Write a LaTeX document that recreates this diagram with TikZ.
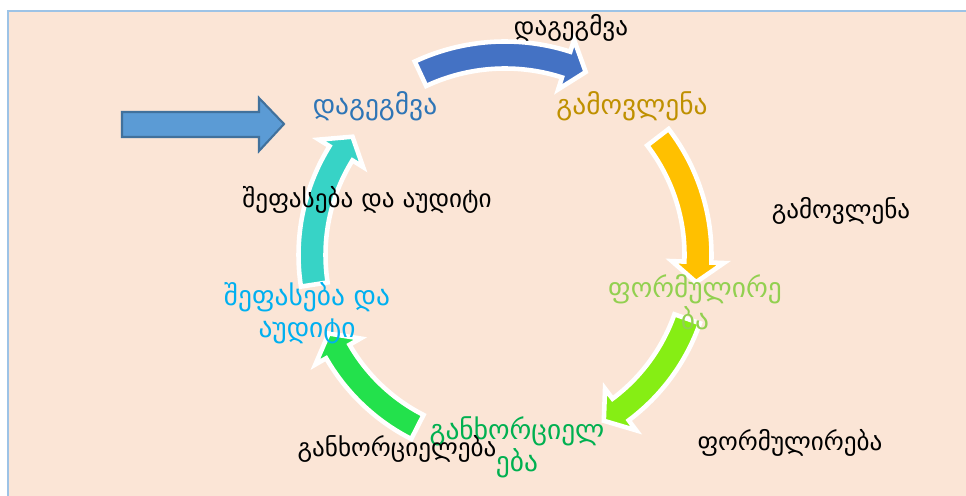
\documentclass[tikz,border=0pt]{standalone}
\usepackage{fontspec}
\setmainfont{DejaVu Sans}
\usetikzlibrary{calc}

\definecolor{peach}{HTML}{FBE5D6}
\definecolor{frame}{HTML}{9DC3E6}
\definecolor{arrBlue}{HTML}{4472C4}
\definecolor{arrGold}{HTML}{FFC000}
\definecolor{arrLime}{HTML}{86EE14}
\definecolor{arrGreen}{HTML}{23E14C}
\definecolor{arrTeal}{HTML}{37D3C6}
\definecolor{inFill}{HTML}{5B9BD5}
\definecolor{inLine}{HTML}{41719C}
\definecolor{txtBlue}{HTML}{2E75B6}
\definecolor{txtGold}{HTML}{BF9000}
\definecolor{txtLime}{HTML}{92D050}
\definecolor{txtGreen}{HTML}{00B050}
\definecolor{txtCyan}{HTML}{00B0F0}

\begin{document}
\begin{tikzpicture}[x=0.02cm,y=-0.02cm,
	plain/.style={font=\fontsize{14.3}{16}\selectfont,inner sep=0pt},
	stage/.style={font=\fontsize{15.6}{18.2}\selectfont,align=center,inner sep=0pt},
	flow/.style={draw=white,line width=2.6pt,line join=miter},
]
\useasboundingbox (0,0) rectangle (966,496);
\fill[peach] (7,10) rectangle (966,496);
\draw[frame,line width=1.5pt] (8,496) -- (8,11) -- (966,11);

\coordinate (hub) at (505,255);
\foreach \col/\r/\a/\b in {arrBlue/200/245/287.8, arrGold/193/322.4/362.1, arrLime/193/19.3/53.2, arrGreen/193/117/150, arrTeal/193/171.2/211.8}
    \filldraw[flow,fill=\col] ($(hub)+({\a}:{\r+13.5})$) arc[start angle=\a,end angle=\b,radius=\r+13.5]
        -- ($(hub)+({\b}:{\r+26})$) -- ($(hub)+({\b+6}:{\r})$) -- ($(hub)+({\b}:{\r-26})$)
        -- ($(hub)+({\b}:{\r-13.5})$) arc[start angle=\b,end angle=\a,radius=\r-13.5] -- cycle;

\draw[inLine,fill=inFill,line width=1.2pt,line join=miter] (122,112) -- (259,112) -- (259,98) -- (284,124)
    -- (259,151) -- (259,137) -- (122,137) -- cycle;

\node[stage,text=txtBlue] (plan) at (375,106) {დაგეგმვა};
\node[stage,text=txtGold] (reveal) at (632,106) {გამოვლენა};
\node[stage,text=txtLime] (form) at (695,302) {ფორმულირე\\ბა};
\node[stage,text=txtGreen] (impl) at (517,447) {განხორციელ\\ება};
\node[stage,text=txtCyan] (audit) at (307,313) {შეფასება და\\აუდიტი};

\node[plain] (planK) at (571,28) {დაგეგმვა};
\node[plain] (revealK) at (841,211) {გამოვლენა};
\node[plain] (formK) at (790,443) {ფორმულირება};
\node[plain] (implK) at (397,449) {განხორციელება};
\node[plain] (auditK) at (367,200) {შეფასება და აუდიტი};
\end{tikzpicture}
\end{document}
